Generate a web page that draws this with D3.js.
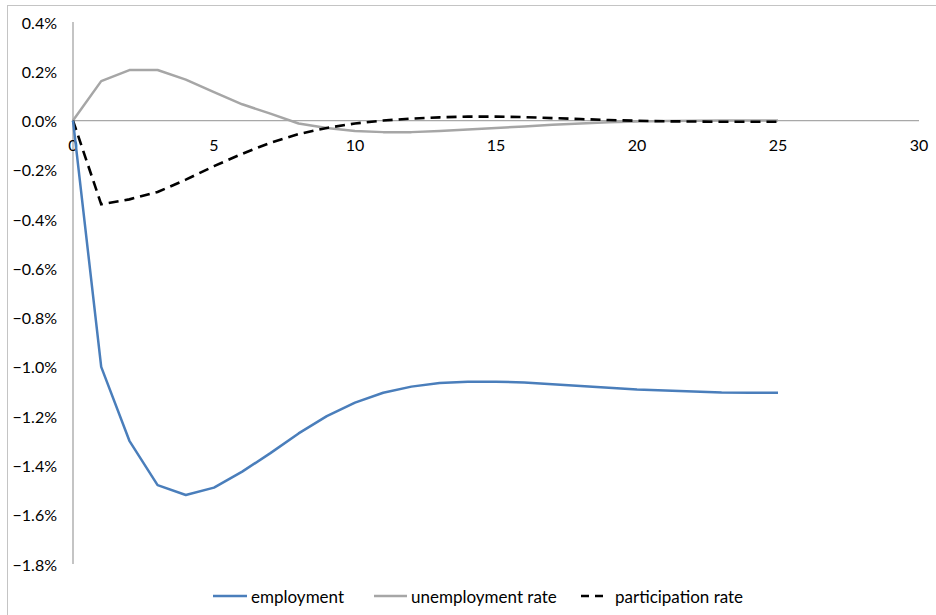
<!DOCTYPE html>
<html><head><meta charset="utf-8">
<script src="https://cdn.jsdelivr.net/npm/d3@7"></script>
<style>body{margin:0;background:#fff}svg{display:block}text{font-family:Lato,"Open Sans",sans-serif;fill:#000}</style>
</head><body>
<script>
const periods = d3.range(0, 26);
const employment = [0, -1.00, -1.30, -1.48, -1.52, -1.49, -1.425, -1.35, -1.27, -1.20, -1.145, -1.105, -1.08, -1.065, -1.06, -1.06, -1.063, -1.07, -1.077, -1.085, -1.092, -1.096, -1.10, -1.104, -1.105, -1.105];
const unemploymentRate = [0, 0.16, 0.205, 0.205, 0.166, 0.115, 0.066, 0.028, -0.012, -0.03, -0.042, -0.047, -0.047, -0.042, -0.036, -0.03, -0.024, -0.017, -0.012, -0.007, -0.004, -0.002, -0.001, 0, 0, 0];
const participationRate = [0, -0.34, -0.32, -0.29, -0.24, -0.185, -0.135, -0.09, -0.055, -0.03, -0.012, 0.0, 0.008, 0.013, 0.016, 0.016, 0.014, 0.01, 0.006, 0.002, -0.001, -0.003, -0.004, -0.005, -0.005, -0.005];
const yTicks = [0.4, 0.2, 0.0, -0.2, -0.4, -0.6, -0.8, -1.0, -1.2, -1.4, -1.6, -1.8];
const xTicks = [0, 5, 10, 15, 20, 25, 30];
const seriesNames = ["employment", "unemployment rate", "participation rate"];

const W = 936, H = 615;
const svg = d3.select("body").append("svg").attr("width", W).attr("height", H);
svg.append("rect").attr("x", 7.5).attr("y", 5.5).attr("width", W + 20).attr("height", H + 20)
  .attr("fill", "none").attr("stroke", "#c4c4c4").attr("stroke-width", 1);

const x = d3.scaleLinear().domain([0, 30]).range([73, 919]);
const y = d3.scaleLinear().domain([-1.8, 0.4]).range([564, 22]);

svg.append("line").attr("x1", x(0)).attr("x2", x(0)).attr("y1", y(0.4)).attr("y2", y(-1.8))
  .attr("stroke", "#b0b0b0").attr("stroke-width", 1.5);
svg.append("line").attr("x1", x(0)).attr("x2", x(30)).attr("y1", y(0)).attr("y2", y(0))
  .attr("stroke", "#a8a8a8").attr("stroke-width", 1.2);

svg.selectAll(".yl").data(yTicks).enter().append("text")
  .attr("x", 57).attr("y", d => y(d)).attr("text-anchor", "end").attr("dominant-baseline", "central")
  .style("font-size", "16px").text(d => d3.format(".1f")(d) + "%");
svg.selectAll(".xl").data(xTicks).enter().append("text")
  .attr("x", d => x(d)).attr("y", 144).attr("text-anchor", "middle").attr("dominant-baseline", "central")
  .style("font-size", "16px").text(d => d);

const line = d3.line().x((d, i) => x(periods[i])).y(d => y(d));
svg.append("path").datum(unemploymentRate).attr("d", line).attr("fill", "none")
  .attr("stroke", "#a6a6a6").attr("stroke-width", 2.5).attr("stroke-linejoin", "round");
svg.append("path").datum(participationRate).attr("d", line).attr("fill", "none")
  .attr("stroke", "#000").attr("stroke-width", 2.6).attr("stroke-dasharray", "10,6");
svg.append("path").datum(employment).attr("d", line).attr("fill", "none")
  .attr("stroke", "#4a7ebb").attr("stroke-width", 2.5).attr("stroke-linejoin", "round");

const leg = [
  {x1: 213, x2: 247, tx: 251, color: "#4a7ebb", dash: null},
  {x1: 374, x2: 407, tx: 411, color: "#a6a6a6", dash: null},
  {x1: 581, x2: 606, tx: 615, color: "#000", dash: "8,6"}
];
leg.forEach((l, i) => {
  svg.append("line").attr("x1", l.x1).attr("x2", l.x2).attr("y1", 596).attr("y2", 596)
    .attr("stroke", l.color).attr("stroke-width", 2.6).attr("stroke-dasharray", l.dash);
  svg.append("text").attr("x", l.tx).attr("y", 596).attr("dominant-baseline", "central")
    .style("font-size", "17px").text(seriesNames[i]);
});
</script>
</body></html>
